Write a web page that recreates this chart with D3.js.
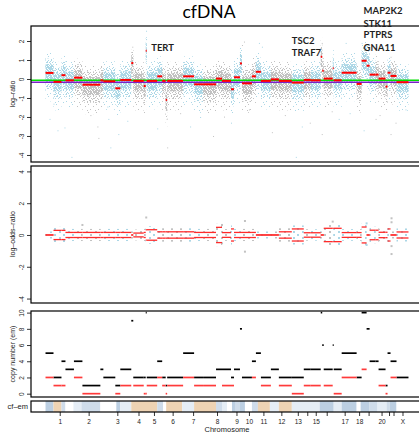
<!DOCTYPE html>
<html><head><meta charset="utf-8">
<script src="https://cdn.jsdelivr.net/npm/d3@7/dist/d3.min.js"></script>
<style>
body{margin:0;background:#fff;}
svg{display:block;}
text{font-family:"Liberation Sans",Arial,sans-serif;}
</style></head><body>
<svg id="chart" width="419" height="434"></svg>
<script>
// ---------------- data ----------------
const chromNames = ["1","2","3","4","5","6","7","8","9","10","11","12","13","14","15","16","17","18","19","20","21","22","X"];
const chromSizes = [285,295,280,145,165,210,200,280,110,140,150,210,120,70,100,120,240,50,140,120,30,60,120];
const chromTickLabels = ["1","2","3","4","5","6","7","8","9","10","11","12","13","","15","","17","18","","20","","","X"];

const segStart = [0,80,160,200, 285,370,550, 580,700,750, 860,880,985, 1005,1015,1120, 1170,1205,1220, 1380,1490, 1580,1710,1770, 1860,1890,1950, 1970,2070, 2110,2160, 2260,2340, 2470, 2590, 2660, 2760,2775,2790, 2880,2890,2970, 3120, 3170,3220,3250, 3310,3340,3410, 3430, 3460, 3520];
const segEnd   = [80,160,200,285, 370,550,580, 700,750,860, 880,985,1005, 1015,1120,1170, 1205,1220,1380, 1490,1580, 1710,1770,1860, 1890,1950,1970, 2070,2110, 2160,2260, 2340,2470, 2590, 2660, 2760, 2775,2790,2880, 2890,2970,3120, 3170, 3220,3250,3310, 3340,3410,3430, 3460, 3520, 3640];
const segLogR  = [0.32,-0.15,0.2,-0.07, 0.07,-0.3,-0.07, -0.12,-0.49,-0.05, 0.84,-0.1,-0.37, 1.49,-0.1,0.14, -0.1,-1.1,-0.1, 0.14,-0.28, -0.28,0.02,-0.1, -0.54,0.09,0.82, -0.23,0.14, 0.38,-0.1, -0.02,-0.1, -0.19, -0.05, -0.07, 1.17,0.44,0.02, 0.56,-0.07,0.33, -0.26, 0.96,0.7,0.23, 0.23,0.02,-0.4, 0.33, 0.16, -0.17];
const segLogOR = [0,0.29,0.29,0.16, 0.16,0.16,0.16, 0.16,0.16,0.16, 0,0.12,0.16, 0.33,0.33,0.2, 0.2,0.2,0.2, 0.2,0.16, 0.16,0.48,0.15, 0.38,0.16,0.16, 0.16,0.16, 0,0, 0,0.2, 0.38, 0.14, 0.14, 0,0,0.42, 0.42,0.42,0.15, 0.15, 0.5,0,0.3, 0.3,0.17,0.17, 0.38, 0, 0.19];
const segTCN   = [5,2,4,3, 4,1,3, 2,1,3, 9,2,2, 10,2,4, 2,1,2, 5,2, 2,3,3, 2,3,8, 2,4, 5,2, 3,2, 2, 3, 3, 10,6,3, 6,3,5, 2, 10,8,4, 4,3,1, 5, 4, 2];
const segLCN   = [2,1,1,null, 2,0,null, null,0,1, null,1,0, 0,1,2, 1,0,1, 2,1, 1,null,1, 1,null,null, null,2, null,1, null,1, 0, 1, 1, null,null,1, null,0,2, null, 3,null,null, null,1,0, null, 2, null];

// spread of the log-ratio point cloud around each segment, per chromosome
const cloudCoreUp    = [0.45,0.4,0.45,0.4,0.45,0.4,0.45,0.4,0.45,0.4,0.45,0.4,0.4,0.4,0.45,0.4,0.45,0.4,0.45,0.4,0.4,0.4,0.4];
const cloudCoreDown  = [0.5,0.55,0.5,0.55,0.5,0.55,0.5,0.55,0.5,0.55,0.5,0.55,0.5,0.5,0.5,0.5,0.5,0.5,0.5,0.5,0.5,0.5,0.5];
const cloudMidUp     = [0.75,0.7,0.75,0.7,0.75,0.7,0.75,0.7,0.75,0.7,0.75,0.7,0.7,0.7,0.75,0.7,0.75,0.7,0.75,0.7,0.7,0.7,0.7];
const cloudMidDown   = [0.9,0.95,0.9,0.95,0.9,0.95,0.9,0.95,0.9,0.95,0.9,0.95,0.9,0.9,0.9,0.9,0.9,0.9,0.9,0.9,0.9,0.9,0.9];
const cloudOuterUp   = [1.05,1.0,1.05,1.0,1.05,1.0,1.05,1.0,1.05,1.0,1.05,1.0,1.0,1.0,1.05,1.0,1.05,1.0,1.05,1.0,1.0,1.0,1.0];
const cloudOuterDown = [1.5,1.55,1.5,1.55,1.5,1.55,1.5,1.55,1.5,1.55,1.5,1.55,1.5,1.5,1.5,1.5,1.5,1.5,1.5,1.5,1.5,1.5,1.5];
const lorSpread = 0.22;

// sparse outlier points of the log-ratio panel
const outlierPos  = [40,120,190,260,80,520,630,650,730,870,1008,1008,1008,1008,1200,1215,1220,1120,1350,1450,530,620,1790,1860,1970,1990,2040,2140,2270,2510,2570,2760,2770,2770,2870,2940,3170,3190,3460,3460,3310,3510,3610,2170,3010,450,820,1550,1680,2400,2650,3050,3350];
const outlierLogR = [-2.1,-2.7,-2.55,-4.1,-1.3,-2.5,-2.1,-3.6,-2.9,1.7,1.2,1.6,2.1,2.54,-1.5,-2.1,-3.6,-2.6,-1.8,-2.5,-3.1,-1.45,-1.98,-2.3,1.79,1.97,-1.6,1.9,-2.8,-4.1,-2.5,1.63,1.9,-2.9,-1.7,-2.1,1.9,-2.7,1.17,-2.9,-2.1,-2.3,-1.6,1.7,1.9,-1.9,-2.2,-2.0,-3.0,-1.9,-2.3,-1.8,-1.9];
// outliers of the log-odds-ratio panel
const lorOutlierPos = [1000,360,1990,1990,3460,3460,3460,3460,2870,1760,1760,3210,3210];
const lorOutlierVal = [1.1,0.63,0.88,-1.05,1.05,0.8,-1.2,-0.7,0.84,0.63,-0.52,0.73,-0.63];

const refLineLogR = [-0.07,-0.17];
const logRTicks = [-4,-3,-2,-1,0,1,2];
const lorTicks = [-4,-2,0,2,4];
const cnTicks = [0,2,4,6,8,10];

// cf-em track blocks
const cfStart = [0,80,160,200,280,360,550,710,750,860,1120,1180,1210,1370,1490,1710,1770,1820,1870,1900,1950,2000,2070,2130,2250,2340,2470,2750,2890,2970,3120,3160,3250,3330,3420,3450,3520];
const cfEnd   = [80,160,200,280,360,550,710,750,860,1120,1180,1210,1370,1490,1710,1770,1820,1870,1900,1950,2000,2070,2130,2250,2340,2470,2750,2890,2970,3120,3160,3250,3330,3420,3450,3520,3640];
const cfLevel = ["l1","g","l2","n","l3","l2","n","l1","l3","g","l2","n","g","l3","g","l2","l3","n","l1","l2","l1","n","l2","g","l3","g","l3","l1","l3","l1","n","l1","l2","l3","l2","l1","n"];

// gene annotations (anchored at data coordinates)
const annotLabels = ["TERT","TSC2","TRAF7","MAP2K2","STK11","PTPRS","GNA11"];
const annotPos    = [1060,2470,2470,3190,3190,3190,3190];
const annotLogR   = [1.49,1.84,1.21,3.42,2.75,2.14,1.47];

// ---------------- drawing ----------------
const svg = d3.select("#chart");
const x  = d3.scaleLinear().domain([-145.6, 3785.6]).range([31, 423]);
const y1 = d3.scaleLinear().domain([-4.37, 2.79]).range([162, 26]);
const y2 = d3.scaleLinear().domain([-4.28, 4.34]).range([303, 166]);
const y3 = d3.scaleLinear().domain([-0.41, 10.2]).range([397, 311]);
const chromStart = Array.from(d3.cumsum([0, ...chromSizes]));
const chromOf = p => Math.min(chromSizes.length-1, d3.bisectRight(chromStart, p) - 1);
const BLUE = "#acd7e6", GRAY = "#c2c2c2";
const ptColor = c => c % 2 === 0 ? BLUE : GRAY;
const ptKey = c => c % 2 === 0 ? "blue" : "gray";
const cfColors = {g:"#eed3b3", l1:"#bccfe2", l2:"#cfdcea", l3:"#e5edf5", n:"#ffffff"};

const defs = svg.append("defs");
function makePattern(id, w, h, dots, size, color){
  const p = defs.append("pattern").attr("id", id).attr("patternUnits","userSpaceOnUse")
    .attr("width", w).attr("height", h);
  dots.forEach(([a,b]) => p.append("rect").attr("x",a).attr("y",b).attr("width",size).attr("height",size).attr("fill",color));
}
const coreTile  = [[0,0],[1,0],[3,0],[1,1],[2,1],[4,1],[0,2],[2,2],[3,2],[0,3],[1,3],[3,3],[4,3]];
const midTile   = [[0,0],[3,0],[5,1],[1,2],[4,2],[2,3],[0,4],[5,4],[3,5]];
const outerTile = [[0,0],[5,2],[2,5],[7,6]];
const lorTile   = [[0,0],[5,3]];
[["blue",BLUE],["gray",GRAY]].forEach(([k,c]) => {
  makePattern("co-"+k, 5, 4, coreTile, 1, c);
  makePattern("mi-"+k, 6, 6, midTile, 1, c);
  makePattern("ou-"+k, 8, 8, outerTile, 1, c);
  makePattern("lo-"+k, 9, 6, lorTile, 2, c);
});
const panels = [[26,162],[166,303],[311,397],[401,412]];
panels.forEach(([t,b],i) => {
  defs.append("clipPath").attr("id","clip"+i).append("rect")
    .attr("x",31).attr("y",t).attr("width",400).attr("height",b-t);
});

// ---- panel 1: log-ratio ----
const g1 = svg.append("g").attr("clip-path","url(#clip0)");
const bands = [["ou", cloudOuterUp, cloudOuterDown], ["mi", cloudMidUp, cloudMidDown], ["co", cloudCoreUp, cloudCoreDown]];
bands.forEach(([pre, up, down]) => {
  segStart.forEach((s,i) => {
    const c = chromOf(s), k = ptKey(c), v = segLogR[i];
    g1.append("rect").attr("x",x(s)).attr("width",x(segEnd[i]) - x(s))
      .attr("y",y1(v+up[c])).attr("height",y1(v-down[c])-y1(v+up[c]))
      .attr("fill",`url(#${pre}-${k})`);
  });
});
outlierPos.forEach((p,i) => {
  g1.append("rect").attr("x",x(p)).attr("y",y1(outlierLogR[i])).attr("width",1).attr("height",1)
    .attr("fill",ptColor(chromOf(p)));
});
const refColors = ["#00e000","#7a20c8"];
refLineLogR.forEach((v,i) => {
  g1.append("line").attr("x1",31).attr("x2",423).attr("y1",y1(v)).attr("y2",y1(v))
    .attr("stroke",refColors[i]).attr("stroke-width",1.5);
});
segStart.forEach((s,i) => {
  g1.append("line").attr("x1",x(s)).attr("x2",x(segEnd[i])).attr("y1",y1(segLogR[i])).attr("y2",y1(segLogR[i]))
    .attr("stroke","#ff0000").attr("stroke-width",2);
});

// ---- panel 2: log-odds-ratio ----
const g2 = svg.append("g").attr("clip-path","url(#clip1)");
segStart.forEach((s,i) => {
  const c = chromOf(s), k = ptKey(c), v = segLogOR[i] + lorSpread;
  g2.append("rect").attr("x",x(s)).attr("width",x(segEnd[i])-x(s))
    .attr("y",y2(v)).attr("height",y2(-v)-y2(v)).attr("fill",`url(#lo-${k})`);
});
lorOutlierPos.forEach((p,i) => {
  g2.append("rect").attr("x",x(p)).attr("y",y2(lorOutlierVal[i])-1).attr("width",2).attr("height",2)
    .attr("fill",ptColor(chromOf(p)));
});
segStart.forEach((s,i) => {
  [segLogOR[i], -segLogOR[i]].forEach(v => {
    g2.append("line").attr("x1",x(s)).attr("x2",x(segEnd[i])).attr("y1",y2(v)).attr("y2",y2(v))
      .attr("stroke","#ff2a2a").attr("stroke-width",1.3);
  });
});

// ---- panel 3: copy number (em) ----
const g3 = svg.append("g").attr("clip-path","url(#clip2)");
segStart.forEach((s,i) => {
  g3.append("line").attr("x1",x(s)).attr("x2",x(segEnd[i])).attr("y1",y3(segTCN[i])).attr("y2",y3(segTCN[i]))
    .attr("stroke","#000").attr("stroke-width",1.7);
});
segStart.forEach((s,i) => {
  if (segLCN[i] === null) return;
  g3.append("line").attr("x1",x(s)).attr("x2",x(segEnd[i])).attr("y1",y3(segLCN[i])).attr("y2",y3(segLCN[i]))
    .attr("stroke","#ff3a3a").attr("stroke-width",1.7);
});

// ---- cf-em track ----
const g4 = svg.append("g").attr("clip-path","url(#clip3)");
cfStart.forEach((s,i) => {
  g4.append("rect").attr("x",x(s)).attr("width",x(cfEnd[i])-x(s)).attr("y",401).attr("height",11)
    .attr("fill",cfColors[cfLevel[i]]);
});

// ---- frames ----
panels.forEach(([t,b]) => {
  svg.append("rect").attr("x",31).attr("y",t).attr("width",400).attr("height",b-t)
    .attr("fill","none").attr("stroke","#000").attr("stroke-width",1.2);
});

// ---- axes ----
function yAxis(scale, ticks){
  const g = svg.append("g").attr("transform","translate(31,0)")
    .call(d3.axisLeft(scale).tickValues(ticks).tickSize(4).tickFormat(d => String(d)));
  g.select(".domain").remove();
  g.selectAll("line").attr("stroke","#000").attr("stroke-width",0.8);
  g.selectAll("text").attr("x",null).attr("dy",null).attr("text-anchor","middle")
    .attr("transform","translate(-7,0) rotate(-90)")
    .style("font-family","Liberation Sans, Arial, sans-serif").style("font-size","6.5px").attr("fill","#222");
}
yAxis(y1, logRTicks); yAxis(y2, lorTicks); yAxis(y3, cnTicks);

const chromMid = chromSizes.map((s,i) => chromStart[i] + s/2);
const gx = svg.append("g").attr("transform","translate(0,412)")
  .call(d3.axisBottom(x).tickValues(chromMid).tickSize(4).tickFormat((d,i) => chromTickLabels[i]));
gx.select(".domain").remove();
gx.selectAll("line").attr("stroke","#000").attr("stroke-width",0.8);
gx.selectAll("text").style("font-family","Liberation Sans, Arial, sans-serif").style("font-size","6.5px").attr("fill","#222");

// ---- titles ----
function vTitle(txt, cy){
  svg.append("text").attr("transform",`translate(15,${cy}) rotate(-90)`).attr("text-anchor","middle")
    .style("font-size","7px").attr("fill","#222").text(txt);
}
vTitle("log\u2013ratio", 94);
vTitle("log\u2013odds\u2013ratio", 234);
vTitle("copy number (em)", 354);
svg.append("text").attr("x",28).attr("y",409).attr("text-anchor","end").style("font-size","7.5px").attr("fill","#222").text("cf\u2013em");
svg.append("text").attr("x",227).attr("y",432).attr("text-anchor","middle").style("font-size","7.5px").attr("fill","#222").text("Chromosome");

svg.append("text").attr("x",209).attr("y",18).attr("text-anchor","middle")
  .style("font-family","Lato, 'Open Sans', sans-serif").style("font-size","17.5px").attr("fill","#000").text("cfDNA");

annotLabels.forEach((t,i) => {
  svg.append("text").attr("x",x(annotPos[i])).attr("y",y1(annotLogR[i]))
    .style("font-family","Lato, 'Open Sans', sans-serif").style("font-weight","bold").style("font-size","9.5px")
    .attr("fill","#1f1f1f").text(t);
});
</script>
</body></html>
